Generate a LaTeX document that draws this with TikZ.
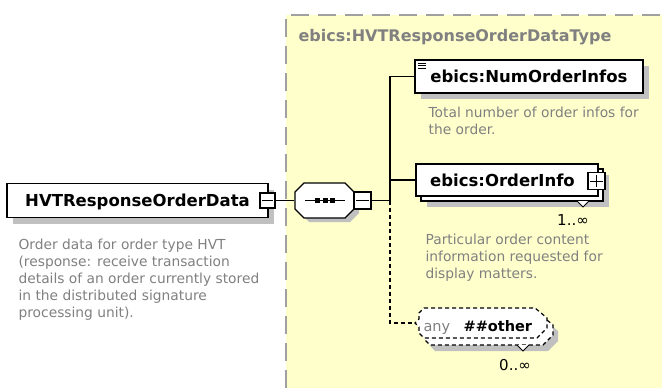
\documentclass[tikz,border=0pt]{standalone}
\usepackage{fontspec}
\setmainfont{DejaVu Sans}
\usetikzlibrary{shadows,calc}
\definecolor{ylw}{HTML}{FFFFCC}
\definecolor{shd}{HTML}{C0C0C0}
\definecolor{txtgray}{HTML}{808080}
\definecolor{bordergray}{HTML}{A0A0A0}
\begin{document}
\begin{tikzpicture}[x=1pt,y=-1pt,line width=1.2pt,
  boxtxt/.style={font=\fontsize{16.5}{19}\selectfont\bfseries, text height=12pt, text depth=0pt, inner sep=0pt},
  elembox/.style={boxtxt, draw=black, fill=white, line width=1.2pt},
  shadowed/.style={general shadow={shadow xshift=6pt, shadow yshift=-6pt, fill=shd, draw=none}},
  pmbox/.style={draw=black, fill=white, line width=1.2pt, inner sep=0pt},
  desc/.style={font=\fontsize{13.8}{17}\selectfont, text=txtgray, align=left, inner sep=0pt, anchor=north west},
  titletxt/.style={font=\fontsize{16}{19}\selectfont\bfseries, text=txtgray, inner sep=0pt, anchor=west},
  mult/.style={font=\fontsize{15}{17}\selectfont, inner sep=0pt},
  anydash/.style={dash pattern=on 4pt off 3pt, line width=1.2pt},
  hidden/.style={inner sep=0pt}
]
\useasboundingbox (0,0) rectangle (662,388);
% type area
\fill[ylw] (286,15) rectangle (662,388);
\draw[bordergray, line width=1.5pt, dash pattern=on 18pt off 9pt] (286,388) -- (286,15) -- (662,15);
\node[titletxt] (title) at (298,37) {ebics:HVTResponseOrderDataType};

% left element
\node[elembox, shadowed, minimum width=261pt, minimum height=34pt] (elem) at (137.5,200.5) {HVTResponseOrderData};
\node[pmbox, minimum size=15pt] (elemm) at (267.5,200.5) {};
\draw[line width=1pt] ([xshift=3pt]elemm.west) -- ([xshift=-3pt]elemm.east);
\node[desc] (elemdesc) at (18,238) {Order data for order type HVT\\(response: receive transaction\\details of an order currently stored\\in the distributed signature\\processing unit).};

% sequence compositor
\fill[shd] (309,188) -- (350,188) -- (359,197) -- (359,213) -- (350,222) -- (309,222) -- (300,213) -- (300,197) -- cycle;
\draw[fill=white] (304,183) -- (345,183) -- (354,192) -- (354,209) -- (345,218) -- (304,218) -- (295,209) -- (295,192) -- cycle;
\node[hidden, minimum width=59pt, minimum height=35pt] (seq) at (324.5,200.5) {};
\draw[line width=1pt] (305,200.5) -- (345,200.5);
\foreach \cx in {317.5,325,332.5} \fill (\cx-2.5,198) rectangle (\cx+2.5,203);
\node[pmbox, minimum size=17pt] (seqm) at (362.5,200.5) {};
\draw[line width=1pt] ([xshift=3pt]seqm.west) -- ([xshift=-3pt]seqm.east);
\draw (elemm.east) -- (seq.west);
\coordinate (j) at (390,200.5);
\draw (seqm.east) -- (j);

% NumOrderInfos
\node[elembox, shadowed, minimum width=228pt, minimum height=33pt] (numb) at (529,76.5) {ebics:NumOrderInfos};
\foreach \yy in {63,65.5,68} \draw[line width=0.9pt] (418,\yy) -- (426,\yy);
\node[desc] (numbdesc) at (428,106) {Total number of order infos for\\the order.};

% OrderInfo
\node[elembox, minimum width=182pt, minimum height=32pt,
  general shadow={shadow xshift=11pt, shadow yshift=-11pt, fill=shd, draw=none},
  general shadow={shadow xshift=5pt, shadow yshift=-5pt, fill=white, draw=black, line width=1.2pt}]
  (oinfo) at (507,180) {ebics:OrderInfo\hspace*{9pt}};
\node[pmbox, minimum size=17pt] (oinfop) at (596.5,181) {};
\draw[line width=1pt] ([xshift=3pt]oinfop.west) -- ([xshift=-3pt]oinfop.east);
\draw[line width=1pt] ([yshift=-3pt]oinfop.north) -- ([yshift=3pt]oinfop.south);
\draw[line width=1pt, fill=white] (577,201) -- (583,207) -- (589,201);
\node[mult] (oinfomult) at (573,220) {1..∞};
\node[desc] (oinfodesc) at (425,233) {Particular order content\\information requested for\\display matters.};

% any
\def\anypath{(424,308) -- (535,308) -- (547,318) -- (547,328) -- (537,338) -- (424,338) -- (419,333) -- (419,327) -- (415,323) -- (419,319) -- (419,313) -- cycle}
\fill[shd, shift={(11,13)}] \anypath;
\draw[anydash, fill=white, shift={(6,7)}] \anypath;
\draw[anydash, fill=white] \anypath;
\node[hidden, minimum width=132pt, minimum height=30pt] (any) at (481,323) {};
\node[font=\fontsize{14.5}{17}\selectfont, text=txtgray, inner sep=0pt, anchor=base west] (anylbl) at (423,331) {any};
\node[font=\fontsize{14.5}{17}\selectfont\bfseries, inner sep=0pt, anchor=base west] (anyns) at (463,331) {\#\#other};
\draw[line width=1pt, fill=white] (517,345) -- (523,351) -- (529,345);
\node[mult] (anymult) at (515,365) {0..∞};

% connectors to children
\draw (j) -- (j |- numb.west) -- (numb.west);
\draw (j |- oinfo.west) -- (oinfo.west);
\draw[dash pattern=on 4pt off 3pt] (j) |- (any.west);
\end{tikzpicture}
\end{document}
